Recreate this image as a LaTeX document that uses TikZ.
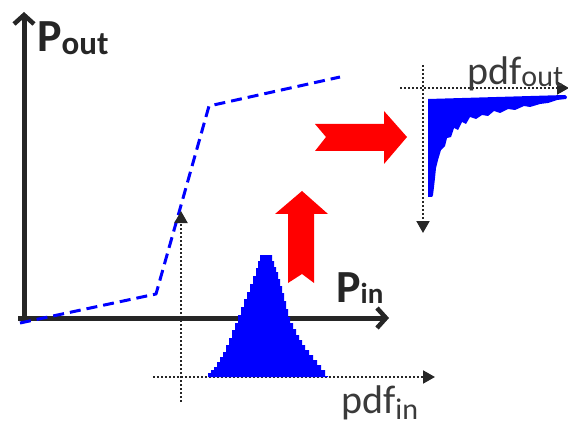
\documentclass[tikz,border=0pt]{standalone}
\usepackage{fontspec}
\setmainfont{Carlito}
\usetikzlibrary{arrows.meta}
\definecolor{axgray}{HTML}{262626}
\definecolor{lblgray}{HTML}{3A3A3A}
\tikzset{
  mainaxis/.style={draw=axgray, line width=5pt, -{Straight Barb[length=9pt,width=20pt,line width=4.5pt]}},
  dotaxis/.style={draw=axgray, line width=2pt, dash pattern=on 2pt off 2pt, -{Triangle[length=12pt,width=13pt]}},
  curve/.style={draw=blue, line width=3pt, dash pattern=on 11pt off 6pt},
  pdffill/.style={fill=blue, draw=none},
  bigarrow/.style={fill=red, draw=none},
  biglbl/.style={text=axgray, inner sep=0pt, anchor=base west, font=\fontsize{46}{46}\selectfont\bfseries},
  pdflbl/.style={text=lblgray, inner sep=0pt, anchor=base west, font=\fontsize{40}{40}\selectfont}
}
\begin{document}
\begin{tikzpicture}[x=1pt,y=-1pt]
\useasboundingbox (0,0) rectangle (568,425);
% main axes
\coordinate (ybot) at (24,320);
\coordinate (ytop) at (24,12);
\coordinate (xleft) at (18,318);
\coordinate (xright) at (389,318);
\draw[mainaxis] (ybot) -- (ytop);
\draw[mainaxis] (xleft) -- (xright);
% transfer curve
\coordinate (c0) at (20,323);
\coordinate (c1) at (156,294);
\coordinate (c2) at (209,106);
\coordinate (c3) at (340,77);
\draw[curve, line join=round] (c0) -- (c1) -- (c2) -- (c3);
% pdf_in axes
\coordinate (vinb) at (181,402);
\coordinate (vint) at (181,211);
\coordinate (hinl) at (153,377);
\coordinate (hinr) at (435,377);
\draw[dotaxis] (vinb) -- (vint);
\draw[dotaxis] (hinl) -- (hinr);
% pdf_in histogram (stepped)
\fill[pdffill] (208,377) |- (211,373) |- (214,370) |- (217,367) |- (220,362) |- (223,357) |- (226,352) |- (229,345) |- (232,338) |- (235,330) |- (238,323) |- (241,315) |- (244,307) |- (247,299) |- (250,292) |- (253,284) |- (256,276) |- (258,268) |- (260,261) |- (262,255)
  -- (272,255) |- (274,261) |- (276,267) |- (278,272) |- (280,279) |- (282,286) |- (284,293) |- (286,301) |- (288,309) |- (290,317) |- (293,323) |- (296,329) |- (299,335) |- (302,340) |- (305,345) |- (309,350) |- (313,355) |- (317,360) |- (321,365) |- (325,370) |- (328,376) -- (328,377) -- cycle;
% pdf_out axes
\coordinate (voutt) at (423,65);
\coordinate (voutb) at (423,233);
\coordinate (houtl) at (400,88);
\coordinate (houtr) at (569,88);
\draw[dotaxis] (voutt) -- (voutb);
\draw[dotaxis] (houtl) -- (houtr);
% pdf_out histogram
\fill[pdffill] (428,99) -- (565,95) -- (567,97) -- (566,99) -- (557,100) -- (548,103) -- (540,104) -- (530,107) -- (524,106) -- (515,110) -- (508,109) -- (500,113) -- (494,111) -- (488,116) -- (482,115) -- (476,119) -- (470,117) -- (466,124) -- (462,122) -- (458,130) -- (454,128) -- (451,137) -- (447,138) -- (445,146) -- (441,150) -- (438,160) -- (436,168) -- (435,178) -- (434,187) -- (433,195) -- (432,197) -- (428,197) -- cycle;
% red arrows
\fill[bigarrow] (302,191) -- (328,214) -- (314,214) -- (314,283) -- (302,274) -- (288,283) -- (288,214) -- (275,214) -- cycle;
\fill[bigarrow] (407,137) -- (384,164) -- (384,151) -- (315,151) -- (326,137) -- (315,124) -- (384,124) -- (384,111) -- cycle;
% labels
\node[biglbl] (pout) at (37,52) {P\raisebox{-3pt}{\fontsize{33}{33}\selectfont out}};
\node[biglbl] (pin) at (336,302) {P\raisebox{-1pt}{\fontsize{29}{29}\selectfont in}};
\node[pdflbl] (pdfout) at (467,85) {pdf\raisebox{-2pt}{\fontsize{30}{30}\selectfont out}};
\node[pdflbl] (pdfin) at (341,413) {pdf\raisebox{-6pt}{\fontsize{30}{30}\selectfont in}};
\end{tikzpicture}
\end{document}
